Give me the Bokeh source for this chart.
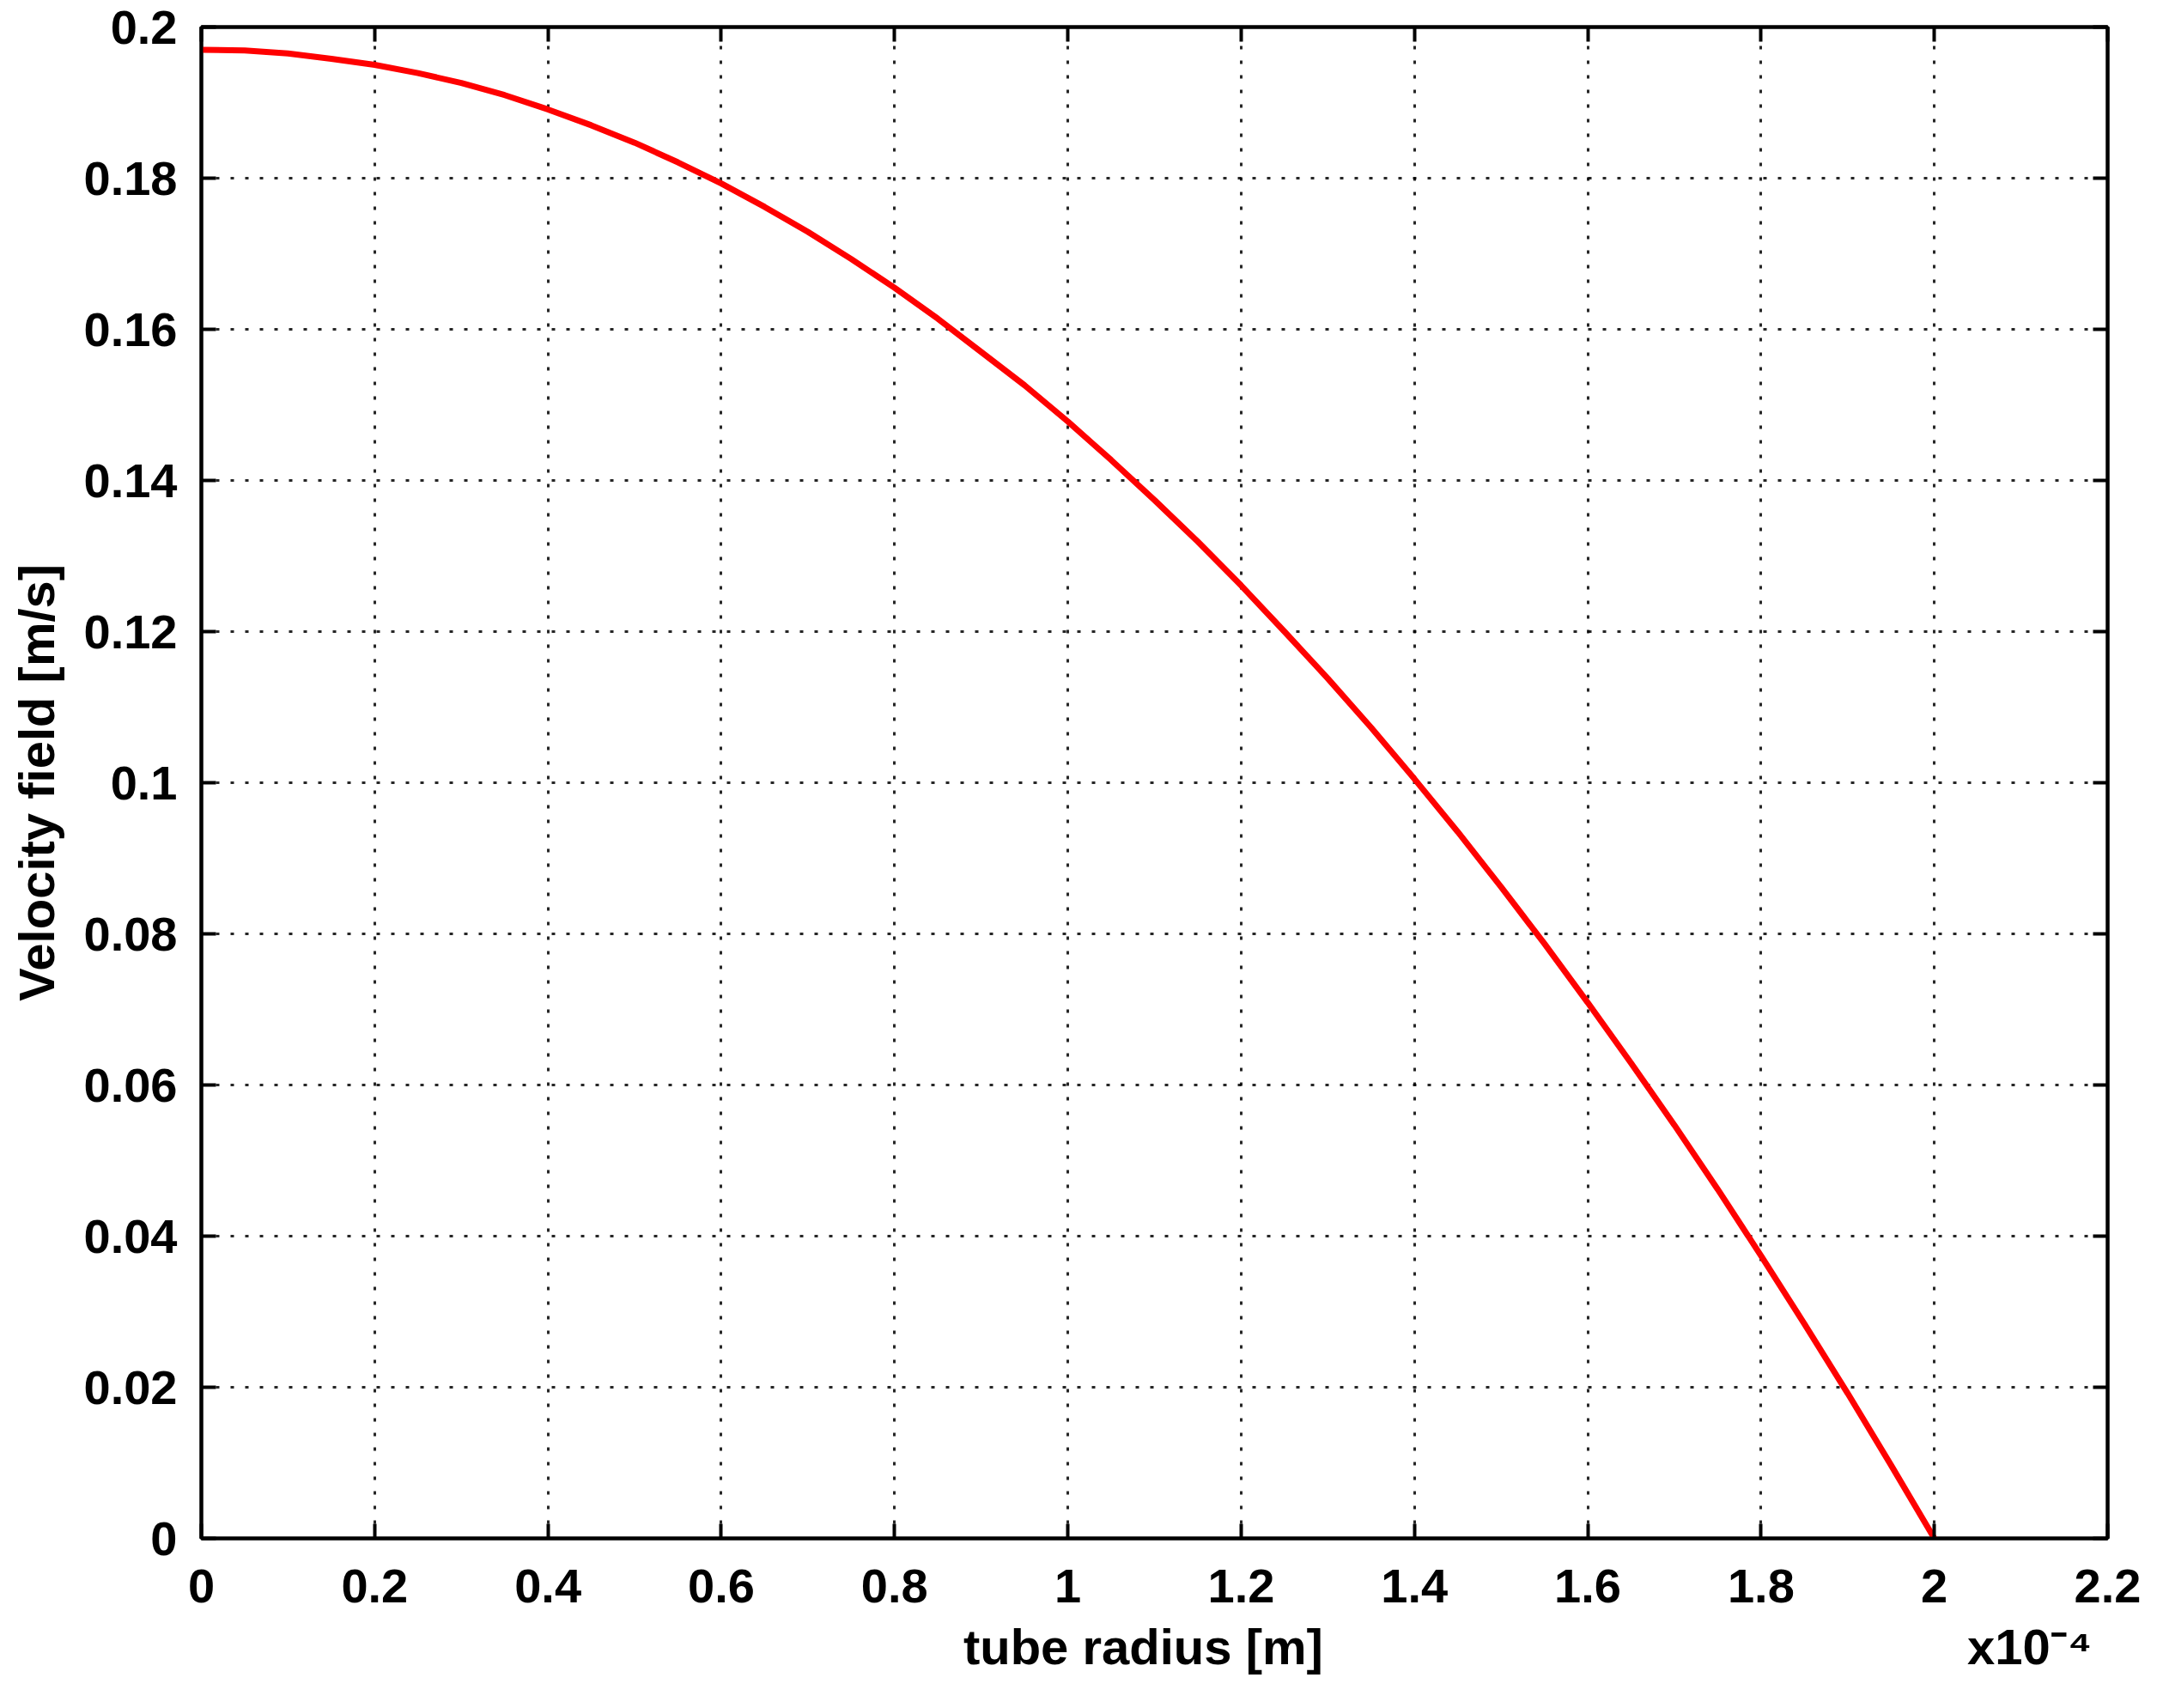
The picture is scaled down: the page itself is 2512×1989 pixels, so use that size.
from bokeh.plotting import figure
from bokeh.models import (LinearAxis, FixedTicker, CustomJSTickFormatter, Range1d)
from bokeh.embed import file_html
from bokeh.resources import INLINE

# tube radius in units of 1e-4 m
radius = [0.0, 0.05, 0.1, 0.15, 0.2, 0.25, 0.3, 0.35, 0.4, 0.45, 0.5,
          0.55, 0.6, 0.65, 0.7, 0.75, 0.8, 0.85, 0.9, 0.95, 1.0,
          1.05, 1.1, 1.15, 1.2, 1.25, 1.3, 1.35, 1.4, 1.45, 1.5,
          1.55, 1.6, 1.65, 1.7, 1.75, 1.8, 1.85, 1.9, 1.95, 2.0]
# velocity field [m/s]
velocity = [0.197, 0.1969, 0.1965, 0.1958, 0.195, 0.1939, 0.1926, 0.191, 0.1891, 0.187, 0.1847,
            0.1821, 0.1793, 0.1762, 0.1729, 0.1693, 0.1655, 0.1614, 0.157, 0.1526, 0.1478,
            0.1427, 0.1374, 0.1319, 0.1261, 0.120, 0.1138, 0.1073, 0.1005, 0.0935, 0.0862,
            0.0787, 0.0709, 0.0629, 0.0547, 0.0462, 0.0374, 0.0284, 0.0192, 0.0097, 0.0]

x_ticks = [0, 0.2, 0.4, 0.6, 0.8, 1.0, 1.2, 1.4, 1.6, 1.8, 2.0, 2.2]
y_ticks = [0, 0.02, 0.04, 0.06, 0.08, 0.1, 0.12, 0.14, 0.16, 0.18, 0.2]

x_title = "tube radius [m]"
y_title = "Velocity field [m/s]"
x_multiplier = "x10\u207b\u2074"

FONT = "Liberation Sans"

p = figure(width=2496, height=1973, output_backend="svg", toolbar_location=None,
           x_range=Range1d(0, 2.2), y_range=Range1d(0, 0.2),
           min_border_left=234, min_border_right=42, min_border_top=31, min_border_bottom=182)
p.background_fill_color = "white"
p.border_fill_color = "white"
p.outline_line_color = "black"
p.outline_line_width = 4

fmt = CustomJSTickFormatter(code="return String(parseFloat(tick.toFixed(4)));")

def style_axis(ax):
    ax.axis_line_color = "black"
    ax.axis_line_width = 4
    ax.major_tick_in = 17
    ax.major_tick_out = 0
    ax.major_tick_line_width = 4
    ax.major_tick_line_color = "black"
    ax.minor_tick_line_color = None
    ax.formatter = fmt
    ax.major_label_text_font = FONT
    ax.major_label_text_font_style = "bold"
    ax.major_label_text_font_size = "56px"
    ax.major_label_text_color = "black"
    ax.axis_label_text_font = FONT
    ax.axis_label_text_font_style = "bold"
    ax.axis_label_text_font_size = "58px"
    ax.axis_label_text_color = "black"

def mirror_axis(ticks):
    ax = LinearAxis(ticker=FixedTicker(ticks=ticks))
    ax.axis_line_color = "black"
    ax.axis_line_width = 4
    ax.major_tick_in = 17
    ax.major_tick_out = 0
    ax.major_tick_line_width = 4
    ax.major_tick_line_color = "black"
    ax.minor_tick_line_color = None
    ax.major_label_text_font_size = "1px"
    ax.major_label_standoff = 0
    ax.major_label_overrides = {t: "" for t in ticks}
    return ax

p.xaxis.ticker = FixedTicker(ticks=x_ticks)
p.yaxis.ticker = FixedTicker(ticks=y_ticks)
style_axis(p.xaxis[0])
style_axis(p.yaxis[0])
p.yaxis.axis_label = y_title
p.xaxis.major_label_standoff = 36
p.yaxis.major_label_standoff = 28
p.yaxis.axis_label_standoff = 20

# second row under the x axis: axis title and the power-of-ten multiplier
title_pos = [1.087, 2.11]
title_row = LinearAxis(ticker=FixedTicker(ticks=title_pos),
                       major_label_overrides={title_pos[0]: x_title, title_pos[1]: x_multiplier})
title_row.axis_line_color = None
title_row.major_tick_line_color = None
title_row.minor_tick_line_color = None
title_row.major_tick_in = 0
title_row.major_tick_out = 0
title_row.major_label_standoff = 16
title_row.major_label_text_font = FONT
title_row.major_label_text_font_style = "bold"
title_row.major_label_text_font_size = "58px"
title_row.major_label_text_color = "black"
p.add_layout(title_row, "below")

p.add_layout(mirror_axis(x_ticks), "above")
p.add_layout(mirror_axis(y_ticks), "right")

for g in (p.xgrid[0], p.ygrid[0]):
    g.grid_line_color = "black"
    g.grid_line_alpha = 0.85
    g.grid_line_width = 3
    g.grid_line_dash = "4 13"
p.xgrid.ticker = FixedTicker(ticks=x_ticks)
p.ygrid.ticker = FixedTicker(ticks=y_ticks)

p.line(radius, velocity, line_color="#ff0000", line_width=7)

open("out.html", "w").write(file_html(p, INLINE))
